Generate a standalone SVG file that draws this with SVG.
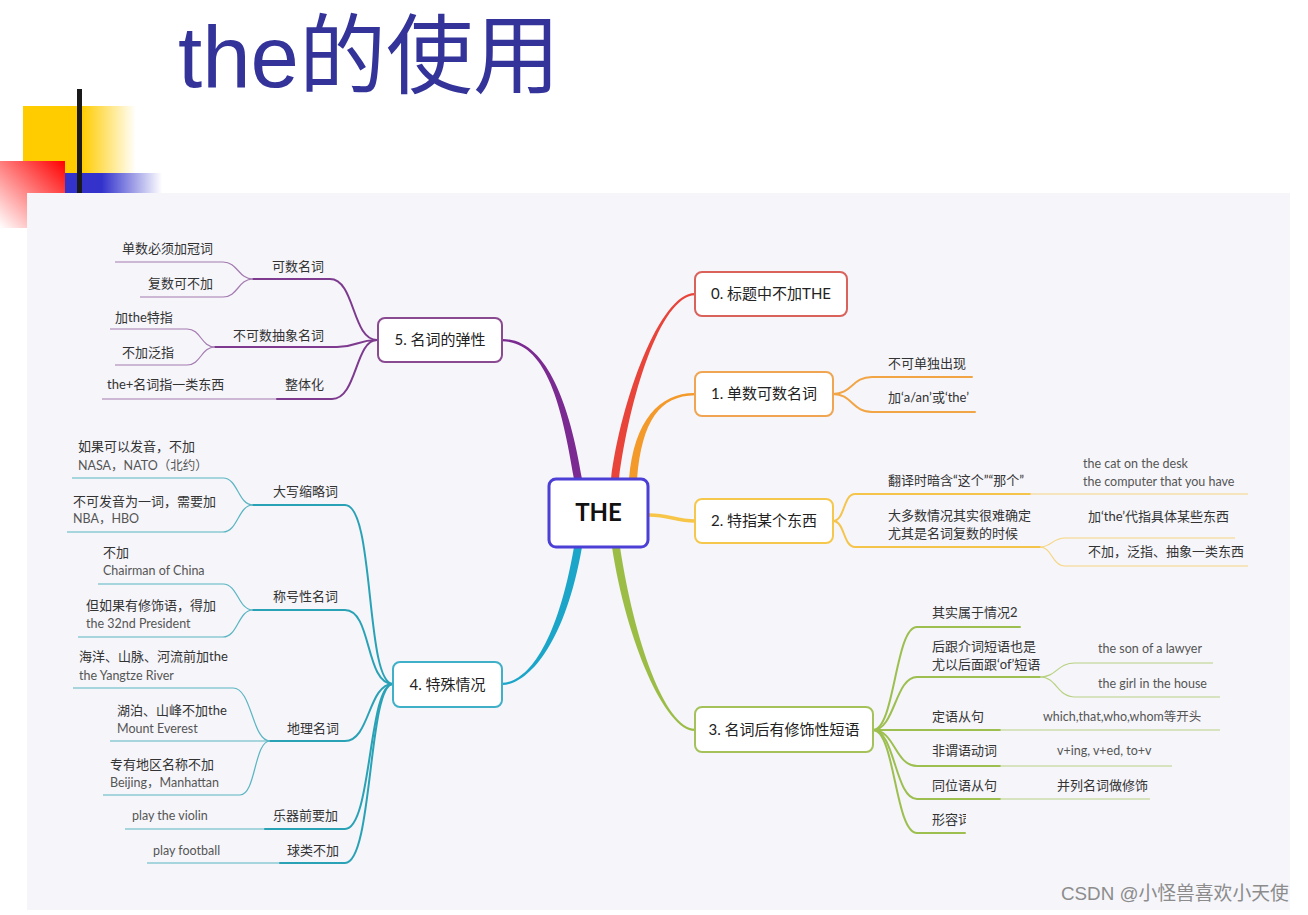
<svg xmlns="http://www.w3.org/2000/svg" width="1308" height="915" viewBox="0 0 1308 915">
<defs>
<linearGradient id="gy" gradientUnits="userSpaceOnUse" x1="23" y1="0" x2="136" y2="0"><stop offset="0" stop-color="#ffcc00"/><stop offset="0.52" stop-color="#ffcc00"/><stop offset="1" stop-color="#ffcc00" stop-opacity="0"/></linearGradient>
<linearGradient id="gb" gradientUnits="userSpaceOnUse" x1="65" y1="0" x2="162" y2="0"><stop offset="0" stop-color="#3333cc"/><stop offset="0.38" stop-color="#3333cc"/><stop offset="1" stop-color="#3333cc" stop-opacity="0"/></linearGradient>
<linearGradient id="gr" gradientUnits="userSpaceOnUse" x1="65" y1="161" x2="0" y2="228"><stop offset="0" stop-color="#ff0000"/><stop offset="1" stop-color="#ffffff"/></linearGradient>
<clipPath id="cut"><rect x="925" y="805" width="41" height="26"/><rect x="966" y="805" width="30" height="8"/></clipPath>
<style>
.t{font-family:Lato,"Noto Sans CJK SC",sans-serif;font-size:13px;fill:#333}
.e{font-family:Lato,"Noto Sans CJK SC",sans-serif;font-size:12.5px;fill:#555}
.n{font-family:Lato,"Noto Sans CJK SC",sans-serif;font-size:15px;fill:#222;text-anchor:middle}
.box{fill:#fff;stroke-width:2}
.s{fill:none;stroke-width:2;stroke-linecap:round}
.l{fill:none;stroke-width:1.2}
.pu{stroke:#7d3a8e}.pul{stroke:#a47ab0}
.te{stroke:#2aa2b6}.tel{stroke:#5ab5c2}
.or{stroke:#f2a545}
.ye{stroke:#f5c44a}.yel{stroke:#f7d57e}
.gr{stroke:#9dbf4f}.grl{stroke:#b8d282}
</style>
</defs>
<rect width="1308" height="915" fill="#fff"/>
<g id="decoration">
<rect x="23" y="106" width="113" height="67" fill="url(#gy)"/>
<rect x="65" y="173" width="97" height="20" fill="url(#gb)"/>
<rect x="0" y="161" width="65" height="67" fill="url(#gr)"/>
<rect x="77" y="89" width="5" height="104" fill="#1a1a1a"/>
<rect x="27" y="193" width="1263" height="717" fill="#f5f5fa"/>
</g>
<g id="title"><text x="178" y="87" font-size="87" fill="#333399"><tspan font-family="Liberation Sans,sans-serif">the</tspan><tspan font-family="Noto Sans CJK SC,sans-serif">的使用</tspan></text></g>
<g id="connectors">
<path d="M611,479 C621,400 660,292.6 695,293 L695,295.2 C660,295.8 629,400 619,479 Z" fill="#e8443a"/>
<path d="M629,479 C634,420 660,392.6 695,393 L695,395.2 C660,395.8 642,420 637,479 Z" fill="#f39a2b"/>
<path d="M582,479 C569,400 545,338.6 502,339 L502,341.2 C545,341.8 561,400 574,479 Z" fill="#7a2a90"/>
<path d="M649,515 C670,515 675,521 695,521" fill="none" stroke="#f7c548" stroke-width="3.5"/>
<path d="M612,547 C626,640 665,731.2 695,731 L695,728.8 C665,728.4 634,640 620,547 Z" fill="#9bbd45"/>
<path d="M582,547 C564,650 525,685.2 502,685 L502,682.8 C525,682.6 556,650 574,547 Z" fill="#1aa5c9"/>
<!-- node 5 -->
<path class="s pu" d="M253,279 H330 C355,279 352,340 377,340"/>
<path class="l pul" d="M115,262 H223 C238,262 238,279 253,279"/>
<path class="l pul" d="M140,297 H223 C238,297 238,279 253,279"/>
<path class="s pu" d="M215,347 H337 C357,347 357,340 377,340"/>
<path class="l pul" d="M110,329 H187 C201,329 201,347 215,347"/>
<path class="l pul" d="M115,365 H187 C201,365 201,347 215,347"/>
<path class="l pul" d="M102,399 H277"/>
<path class="s pu" d="M277,399 H332 C357,399 355,340 377,340"/>
<!-- node 4 -->
<path class="s te" d="M253,505 H345 C375,505 365,684 393,684"/>
<path class="l tel" d="M72,478 H223 C238,478 238,505 253,505"/>
<path class="l tel" d="M67,532 H223 C238,532 238,505 253,505"/>
<path class="s te" d="M253,610 H345 C372,610 365,684 393,684"/>
<path class="l tel" d="M98,584 H223 C238,584 238,610 253,610"/>
<path class="l tel" d="M78,637 H223 C238,637 238,610 253,610"/>
<path class="s te" d="M270,741 H345 C370,741 368,684 393,684"/>
<path class="l tel" d="M73,688 H233 C252,688 252,741 270,741"/>
<path class="l tel" d="M110,741 H270"/>
<path class="l tel" d="M103,795 H240 C256,795 254,741 270,741"/>
<path class="l tel" d="M125,829 H265"/>
<path class="s te" d="M265,829 H345 C372,829 368,684 393,684"/>
<path class="l tel" d="M147,863 H280"/>
<path class="s te" d="M280,863 H345 C373,863 368,684 393,684"/>
<!-- node 1 -->
<path class="s or" d="M833,394 C852,394 852,377 872,377 H972"/>
<path class="s or" d="M833,394 C852,394 852,412 872,412 H975"/>
<!-- node 2 -->
<path class="s ye" d="M833,521 C845,521 843,494 855,494 H1030"/>
<path class="l yel" d="M1030,494 H1248"/>
<path class="s ye" d="M833,521 C845,521 843,547 855,547 H1040"/>
<path class="l yel" d="M1040,547 C1052,547 1052,538 1065,538 H1235"/>
<path class="l yel" d="M1040,547 C1052,547 1052,566 1065,566 H1248"/>
<!-- node 3 -->
<path class="s gr" d="M873,730 C895,730 895,627 917,627 H1020"/>
<path class="s gr" d="M873,730 C895,730 895,677 917,677 H1040"/>
<path class="l grl" d="M1040,677 C1057,677 1057,663 1075,663 H1213"/>
<path class="l grl" d="M1040,677 C1057,677 1057,697 1075,697 H1220"/>
<path class="s gr" d="M873,730 H1000"/>
<path class="l grl" d="M1000,730 H1220"/>
<path class="s gr" d="M873,730 C895,730 895,766 917,766 H1000"/>
<path class="l grl" d="M1000,766 H1172"/>
<path class="s gr" d="M873,730 C895,730 895,799 917,799 H1000"/>
<path class="l grl" d="M1000,799 H1150"/>
<path class="s gr" d="M873,730 C895,730 895,833 917,833 H965"/>
</g>
<g id="root">
<rect x="549" y="479" width="99" height="68" rx="7" fill="#fff" stroke="#4b3fd6" stroke-width="3"/>
<text x="598.5" y="521" font-family="Lato,sans-serif" font-weight="bold" font-size="24" fill="#111" text-anchor="middle">THE</text>
</g>
<g id="node0">
<rect class="box" x="695" y="272" width="152" height="44" rx="7" stroke="#d9625a"/>
<text class="n" x="771" y="299">0. 标题中不加THE</text>
</g>
<g id="node1">
<rect class="box" x="695" y="372" width="138" height="44" rx="7" stroke="#f0a552"/>
<text class="n" x="764" y="399">1. 单数可数名词</text>
<text class="t" x="888" y="368">不可单独出现</text>
<text class="t" x="888" y="402">加‘a/an’或‘the’</text>
</g>
<g id="node2">
<rect class="box" x="695" y="499" width="138" height="44" rx="7" stroke="#f5c84d"/>
<text class="n" x="764" y="526">2. 特指某个东西</text>
<text class="t" x="888" y="485">翻译时暗含“这个”“那个”</text>
<text class="e" x="1083" y="468">the cat on the desk</text>
<text class="e" x="1083" y="486">the computer that you have</text>
<text class="t" x="888" y="520">大多数情况其实很难确定</text>
<text class="t" x="888" y="538">尤其是名词复数的时候</text>
<text class="t" x="1088" y="521">加‘the’代指具体某些东西</text>
<text class="t" x="1088" y="556">不加，泛指、抽象一类东西</text>
</g>
<g id="node3">
<rect class="box" x="695" y="707" width="178" height="45" rx="7" stroke="#a5c25a"/>
<text class="n" x="784" y="735">3. 名词后有修饰性短语</text>
<text class="t" x="932" y="617">其实属于情况2</text>
<text class="t" x="932" y="651">后跟介词短语也是</text>
<text class="t" x="932" y="669">尤以后面跟‘of’短语</text>
<text class="e" x="1098" y="653">the son of a lawyer</text>
<text class="e" x="1098" y="688">the girl in the house</text>
<text class="t" x="932" y="721">定语从句</text>
<text class="e" x="1043" y="721">which,that,who,whom等开头</text>
<text class="t" x="932" y="755">非谓语动词</text>
<text class="e" x="1057" y="755">v+ing,  v+ed,  to+v</text>
<text class="t" x="932" y="790">同位语从句</text>
<text class="t" x="1057" y="790">并列名词做修饰</text>
<text class="t" x="932" y="824" clip-path="url(#cut)">形容词从句</text>
</g>
<g id="node4">
<rect class="box" x="393" y="662" width="109" height="45" rx="7" stroke="#3fb0c8"/>
<text class="n" x="447.5" y="690">4. 特殊情况</text>
<text class="t" x="273" y="496">大写缩略词</text>
<text class="t" x="78" y="451">如果可以发音，不加</text>
<text class="e" x="78" y="470">NASA，NATO（北约）</text>
<text class="t" x="73" y="506">不可发音为一词，需要加</text>
<text class="e" x="73" y="523">NBA，HBO</text>
<text class="t" x="273" y="601">称号性名词</text>
<text class="t" x="103" y="557">不加</text>
<text class="e" x="103" y="575">Chairman of China</text>
<text class="t" x="86" y="610">但如果有修饰语，得加</text>
<text class="e" x="86" y="628">the 32nd President</text>
<text class="t" x="287" y="733">地理名词</text>
<text class="t" x="79" y="661">海洋、山脉、河流前加the</text>
<text class="e" x="79" y="680">the Yangtze River</text>
<text class="t" x="117" y="715">湖泊、山峰不加the</text>
<text class="e" x="117" y="733">Mount Everest</text>
<text class="t" x="110" y="769">专有地区名称不加</text>
<text class="e" x="110" y="787">Beijing，Manhattan</text>
<text class="t" x="273" y="820">乐器前要加</text>
<text class="e" x="132" y="820">play the violin</text>
<text class="t" x="287" y="855">球类不加</text>
<text class="e" x="153" y="855">play football</text>
</g>
<g id="node5">
<rect class="box" x="378" y="318" width="124" height="44" rx="7" stroke="#8a4a92"/>
<text class="n" x="440" y="345">5. 名词的弹性</text>
<text class="t" x="272" y="271">可数名词</text>
<text class="t" x="122" y="253">单数必须加冠词</text>
<text class="t" x="148" y="288">复数可不加</text>
<text class="t" x="233" y="340">不可数抽象名词</text>
<text class="t" x="115" y="322">加the特指</text>
<text class="t" x="122" y="357">不加泛指</text>
<text class="t" x="285" y="389">整体化</text>
<text class="t" x="107" y="389">the+名词指一类东西</text>
</g>
<g id="watermark"><text x="1061" y="900" font-family="Liberation Sans,Noto Sans CJK SC,sans-serif" font-size="18.8" fill="#8c8c8c">CSDN @小怪兽喜欢小天使</text></g>
</svg>
